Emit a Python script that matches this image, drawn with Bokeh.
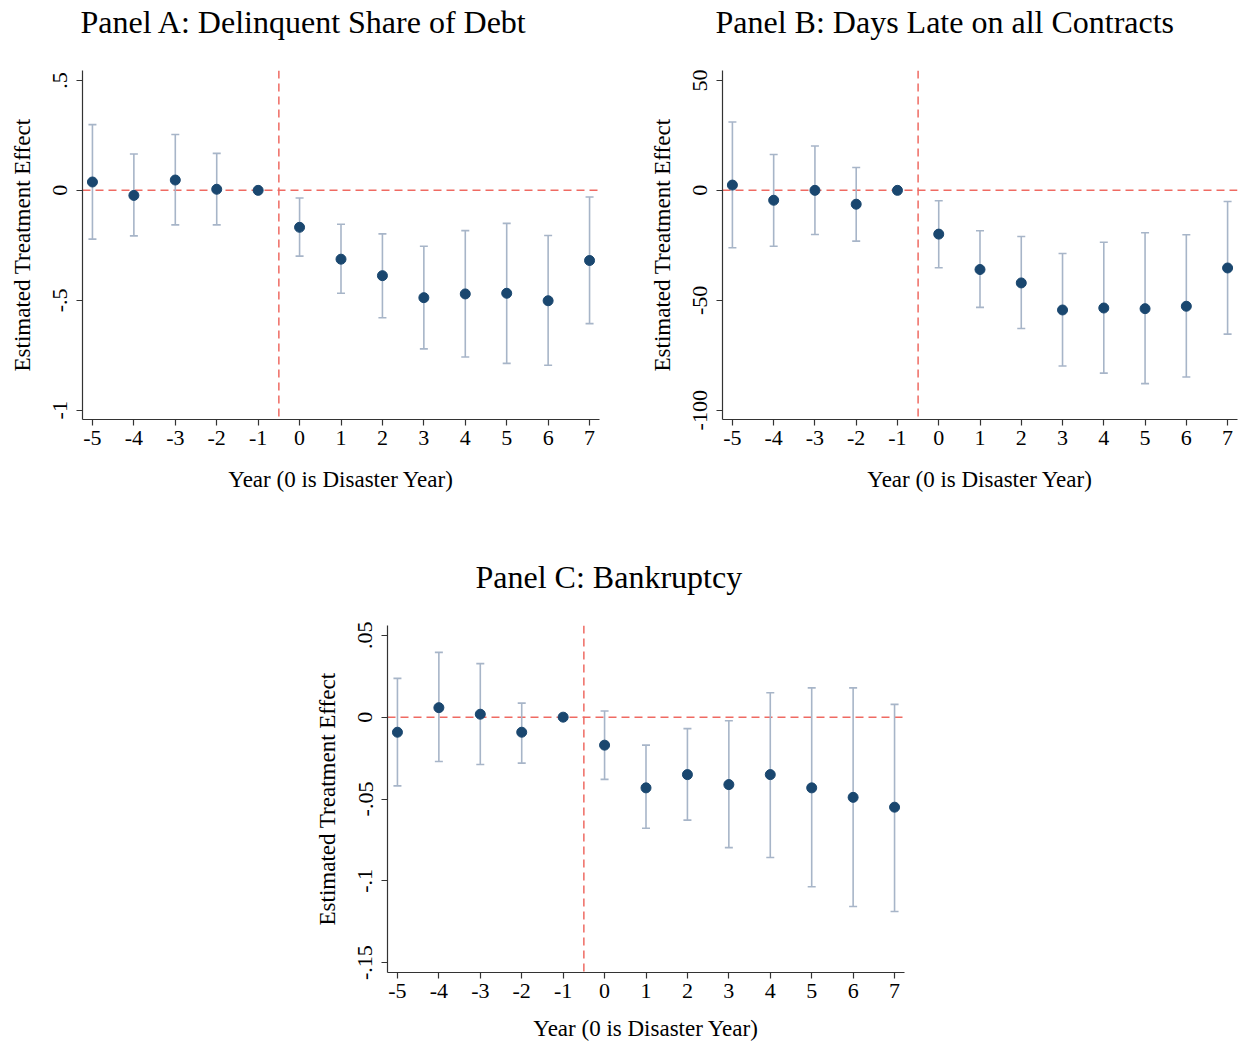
from bokeh.plotting import figure
from bokeh.models import ColumnDataSource, Whisker, TeeHead, Span, FixedTicker, Spacer, Title
from bokeh.layouts import row, column
from bokeh.embed import file_html
from bokeh.resources import INLINE

# ---------------- data ----------------
years = [-5, -4, -3, -2, -1, 0, 1, 2, 3, 4, 5, 6, 7]
x_ticks = [-5, -4, -3, -2, -1, 0, 1, 2, 3, 4, 5, 6, 7]

# Panel A: Delinquent Share of Debt
a_est = [0.038, -0.023, 0.047, 0.005, 0.0, -0.168, -0.313, -0.388, -0.488, -0.471, -0.468, -0.502, -0.319]
a_lo = [-0.222, -0.207, -0.157, -0.157, None, -0.299, -0.468, -0.579, -0.721, -0.758, -0.787, -0.795, -0.606]
a_hi = [0.299, 0.165, 0.254, 0.168, None, -0.035, -0.154, -0.198, -0.254, -0.183, -0.150, -0.205, -0.030]
a_yticks = [-1, -0.5, 0, 0.5]
a_ylabels = ["-1", "-.5", "0", ".5"]

# Panel B: Days Late on all Contracts
b_est = [2.4, -4.5, 0.0, -6.3, 0.0, -19.9, -36.0, -42.1, -54.4, -53.5, -53.8, -52.7, -35.3]
b_lo = [-26.1, -25.4, -20.1, -23.1, None, -35.2, -53.2, -62.8, -79.9, -83.1, -87.9, -84.9, -65.4]
b_hi = [31.1, 16.3, 20.2, 10.4, None, -4.7, -18.4, -21.0, -28.7, -23.6, -19.3, -20.2, -5.1]
b_yticks = [-100, -50, 0, 50]
b_ylabels = ["-100", "-50", "0", "50"]

# Panel C: Bankruptcy
c_est = [-0.0092, 0.0058, 0.0018, -0.0092, 0.0, -0.0171, -0.0432, -0.0351, -0.0412, -0.0351, -0.0432, -0.0490, -0.0550]
c_lo = [-0.0420, -0.0271, -0.0289, -0.0281, None, -0.0380, -0.0679, -0.0629, -0.0797, -0.0857, -0.1036, -0.1157, -0.1187]
c_hi = [0.0237, 0.0396, 0.0327, 0.0086, None, 0.0038, -0.0171, -0.0070, -0.0022, 0.0149, 0.0179, 0.0179, 0.0078]
c_yticks = [-0.15, -0.1, -0.05, 0, 0.05]
c_ylabels = ["-.15", "-.1", "-.05", "0", ".05"]

event_x = -0.5
zero_y = 0

# ---------------- style ----------------
FONT = "Liberation Serif"
POINT = "#1a476f"
CI = "#a7b5c8"
RED = "#ef6a62"
AXIS = "#333333"


def make_panel(title, est, lo, hi, yticks, ylabels, xr, yr, width, height,
               bl, br, bt, bb, title_offset, xlab_standoff):
    p = figure(width=width, height=height, x_range=xr, y_range=yr,
               output_backend="svg", toolbar_location=None, tools="",
               min_border_left=bl, min_border_right=br,
               min_border_top=bt, min_border_bottom=bb,
               title=title)
    p.background_fill_color = "white"
    p.border_fill_color = "white"
    p.outline_line_color = None
    p.grid.visible = False

    p.title.text_font = FONT
    p.title.text_font_size = "32px"
    p.title.text_font_style = "normal"
    p.title.text_color = "black"
    p.title.align = "left"
    p.title.offset = title_offset
    p.title.standoff = 2
    # blank spacer between frame and title
    p.add_layout(Title(text=" ", text_font_size="1px", standoff=27), "above")

    for ax in (p.xaxis[0], p.yaxis[0]):
        ax.axis_line_color = AXIS
        ax.axis_line_width = 1.2
        ax.major_tick_line_color = AXIS
        ax.major_tick_line_width = 1.2
        ax.major_tick_out = 6
        ax.major_tick_in = 0
        ax.minor_tick_line_color = None
        ax.major_label_text_font = FONT
        ax.major_label_text_font_size = "22px"
        ax.major_label_text_color = "black"
        ax.axis_label_text_font = FONT
        ax.axis_label_text_font_size = "23px"
        ax.axis_label_text_font_style = "normal"
        ax.axis_label_text_color = "black"

    p.xaxis.ticker = FixedTicker(ticks=x_ticks)
    p.xaxis.major_label_overrides = {t: str(t) for t in x_ticks}
    p.xaxis.major_label_standoff = 5
    p.xaxis.axis_label = "Year (0 is Disaster Year)"
    p.xaxis.axis_label_standoff = xlab_standoff

    p.yaxis.ticker = FixedTicker(ticks=yticks)
    p.yaxis.major_label_overrides = {t: l for t, l in zip(yticks, ylabels)}
    p.yaxis.major_label_orientation = "vertical"
    p.yaxis.major_label_standoff = 9
    p.yaxis.axis_label = "Estimated Treatment Effect"
    p.yaxis.axis_label_standoff = 16

    hz = Span(location=zero_y, dimension="width", line_color=RED,
              line_width=1.5, line_dash="8 5", level="underlay")
    vt = Span(location=event_x, dimension="height", line_color=RED,
              line_width=1.5, line_dash="8 5", level="underlay")
    p.add_layout(hz)
    p.add_layout(vt)

    ci_x = [y for y, l in zip(years, lo) if l is not None]
    ci_lo = [l for l in lo if l is not None]
    ci_hi = [h for h in hi if h is not None]
    ci_src = ColumnDataSource(dict(x=ci_x, lo=ci_lo, hi=ci_hi))
    w = Whisker(base="x", lower="lo", upper="hi", source=ci_src,
                line_color=CI, line_width=1.6, level="underlay",
                upper_head=TeeHead(size=8, line_color=CI, line_width=1.6),
                lower_head=TeeHead(size=8, line_color=CI, line_width=1.6))
    p.add_layout(w)

    src = ColumnDataSource(dict(x=years, y=est))
    p.scatter("x", "y", source=src, size=10, fill_color=POINT,
              line_color=POINT)
    return p


pA = make_panel("Panel A: Delinquent Share of Debt", a_est, a_lo, a_hi,
                a_yticks, a_ylabels, (-5.24, 7.24), (-1.042, 0.545),
                646, 499, 82, 47, 69, 80, -2, 19)
pB = make_panel("Panel B: Days Late on all Contracts", b_est, b_lo, b_hi,
                b_yticks, b_ylabels, (-5.24, 7.24), (-104.2, 54.5),
                596, 499, 74, 5, 69, 80, -7, 19)
pC = make_panel("Panel C: Bankruptcy", c_est, c_lo, c_hi,
                c_yticks, c_ylabels, (-5.24, 7.24), (-0.156, 0.056),
                605, 549, 82, 6, 126, 76, 88, 15)

layout = column(row(pA, pB), row(Spacer(width=305, height=549), pC))

open("out.html", "w").write(file_html(layout, INLINE))
